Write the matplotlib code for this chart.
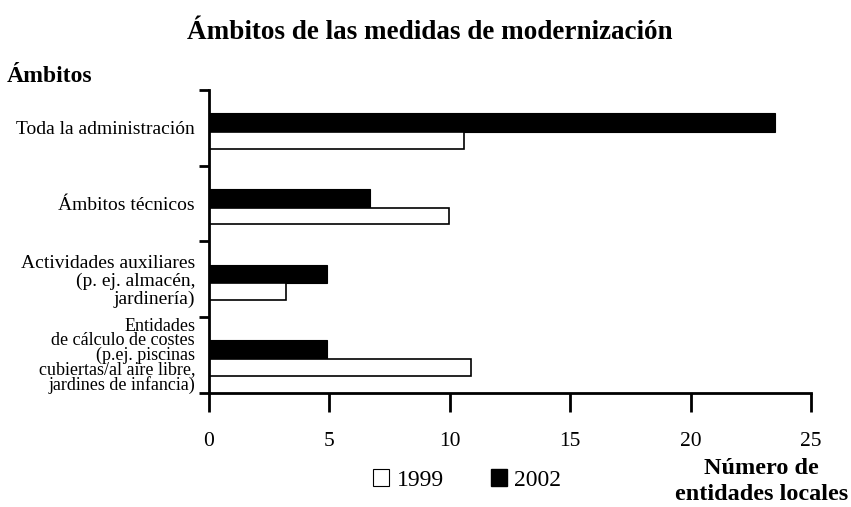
import matplotlib.pyplot as plt
from matplotlib.patches import Patch
import numpy as np

plt.rcParams['font.family'] = ['Liberation Serif', 'DejaVu Serif']

categories = ['Toda la administración',
              'Ámbitos técnicos',
              'Actividades auxiliares\n(p. ej. almacén,\njardinería)',
              'Entidades\nde cálculo de costes\n(p.ej. piscinas\ncubiertas/al aire libre,\njardines de infancia)']
vals_1999 = [10.6, 9.95, 3.2, 10.9]
vals_2002 = [23.5, 6.7, 4.9, 4.9]
xticks = [0, 5, 10, 15, 20, 25]

fig = plt.figure(figsize=(8.51, 5.07), dpi=100)
ax = fig.add_axes([0.2456, 0.225, 0.7074, 0.5975])

pos = np.arange(len(categories))
ax.barh(pos + 0.43, vals_2002, height=0.25, color='black', edgecolor='black', linewidth=0.8)
ax.barh(pos + 0.665, vals_1999, height=0.22, color='white', edgecolor='black', linewidth=1.2)

ax.set_ylim(len(categories), 0)
ax.set_xlim(0, 25)
ax.set_yticks(np.arange(len(categories) + 1))
ax.set_yticklabels([])
ax.set_yticks(pos + 0.5, minor=True)
ax.set_yticklabels(categories, minor=True, fontsize=14)
spacing = [1.0, 1.0, 1.05, 0.8]
sizes = [14, 14, 14, 13]
for lab, sp, fs in zip(ax.get_yticklabels(minor=True), spacing, sizes):
    lab.set_linespacing(sp)
    lab.set_fontsize(fs)
ax.tick_params(axis='y', which='minor', length=0, pad=10)
ax.tick_params(axis='y', which='major', length=7, width=2)
ax.set_xticks(xticks)
ax.tick_params(axis='x', length=14, width=2, labelsize=15.5, pad=14)

for s in ['top', 'right']:
    ax.spines[s].set_visible(False)
for s in ['left', 'bottom']:
    ax.spines[s].set_linewidth(2)

fig.text(0.505, 0.935, 'Ámbitos de las medidas de modernización', ha='center', va='center',
         fontsize=19.5, fontweight='bold')
fig.text(0.008, 0.85, 'Ámbitos', ha='left', va='center', fontsize=17, fontweight='bold')
fig.text(0.997, 0.05, 'Número de\nentidades locales', ha='right', va='center',
         fontsize=17.5, fontweight='bold', linespacing=1.3, multialignment='center')

handles = [Patch(facecolor='white', edgecolor='black', linewidth=0.8),
           Patch(facecolor='black', edgecolor='black')]
fig.legend(handles, ['1999', '2002'], loc='center', bbox_to_anchor=(0.549, 0.053),
           ncol=2, frameon=False, fontsize=17, handlelength=0.7, handleheight=0.7,
           handletextpad=0.3, columnspacing=2.0)

fig.savefig('out.png', dpi=100)
